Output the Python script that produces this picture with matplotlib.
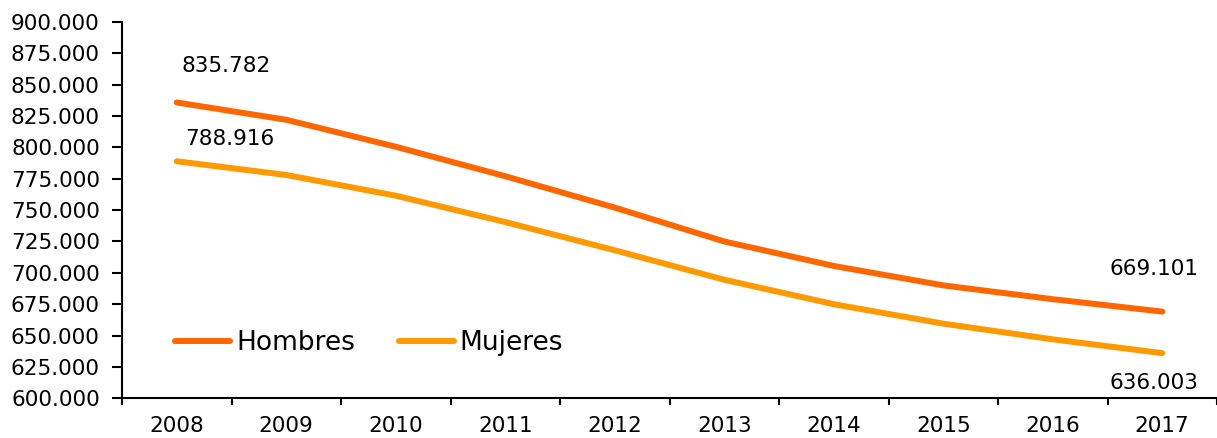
import matplotlib
matplotlib.use("Agg")
import matplotlib.pyplot as plt
from matplotlib.ticker import FuncFormatter

years = ["2008", "2009", "2010", "2011", "2012", "2013", "2014", "2015", "2016", "2017"]
hombres = [835782, 822000, 800500, 777000, 752000, 725000, 705500, 690000, 679000, 669101]
mujeres = [788916, 778000, 761500, 740500, 718000, 694500, 675000, 659500, 647000, 636003]

c_h = "#FF6600"
c_m = "#FF9900"

W, H = 1217, 438
fig = plt.figure(figsize=(W / 100, H / 100), dpi=100)
left, bottom, top = 122, 398.3, 21.9
ax = fig.add_axes([left / W, 1 - bottom / H, 1 - left / W, (bottom - top) / H])

x = list(range(len(years)))
ax.plot(x, hombres, color=c_h, lw=4.3, solid_capstyle="round", label="Hombres")
ax.plot(x, mujeres, color=c_m, lw=4.3, solid_capstyle="round", label="Mujeres")

cat_w = 110.7
ax.set_xlim(-0.5, -0.5 + (W - left) / cat_w)
ax.set_ylim(600000, 900000)
ax.set_yticks(range(600000, 900001, 25000))
ax.yaxis.set_major_formatter(FuncFormatter(lambda v, p: f"{v/1000:.3f}"))
ax.set_xticks(x)
ax.set_xticklabels(years)
ax.set_xticks([i + 0.5 for i in range(-1, len(years))], minor=True)
ax.tick_params(axis="x", which="major", length=0, pad=13, labelsize=15.5)
ax.tick_params(axis="x", which="minor", length=5, width=1.5, direction="out")
ax.tick_params(axis="y", length=7, width=1.5, pad=9, labelsize=15.5)

for s in ["top", "right"]:
    ax.spines[s].set_visible(False)
for s in ["left", "bottom"]:
    ax.spines[s].set_linewidth(1.5)

fs = 15.5
ax.annotate(f"{hombres[0]/1000:.3f}", (0, hombres[0]), xytext=(49, 36),
            textcoords="offset pixels", ha="center", va="center", fontsize=fs)
ax.annotate(f"{mujeres[0]/1000:.3f}", (0, mujeres[0]), xytext=(53, 22),
            textcoords="offset pixels", ha="center", va="center", fontsize=fs)
ax.annotate(f"{hombres[-1]/1000:.3f}", (9, hombres[-1]), xytext=(-8, 43),
            textcoords="offset pixels", ha="center", va="center", fontsize=fs)
ax.annotate(f"{mujeres[-1]/1000:.3f}", (9, mujeres[-1]), xytext=(-8, -30),
            textcoords="offset pixels", ha="center", va="center", fontsize=fs)

ax.legend(loc="center left", bbox_to_anchor=(175 / W, 1 - 343 / H),
          bbox_transform=fig.transFigure, ncol=2, frameon=False, fontsize=19,
          handlelength=2.1, handletextpad=0.22, columnspacing=1.65,
          borderpad=0, borderaxespad=0)

fig.savefig("out.png", dpi=100)
